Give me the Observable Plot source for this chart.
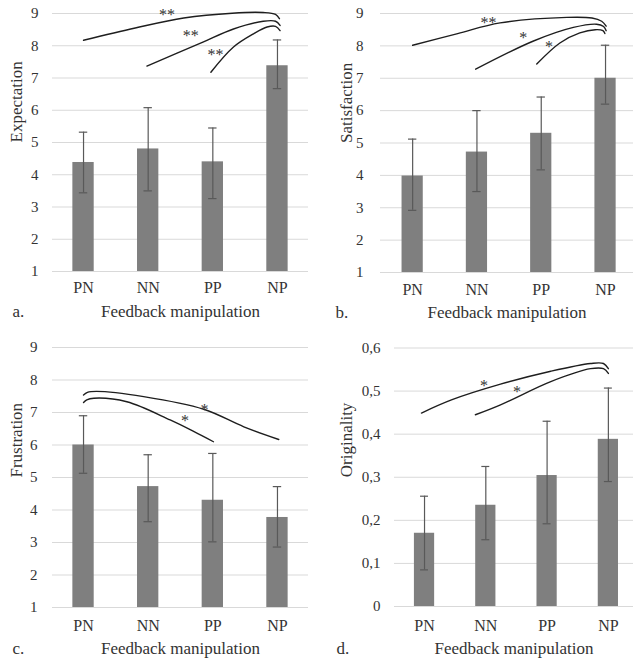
<!DOCTYPE html>
<html>
<head>
<meta charset="utf-8">
<script src="https://cdn.jsdelivr.net/npm/d3@7"></script>
<script src="https://cdn.jsdelivr.net/npm/@observablehq/plot@0.6"></script>
<style>
  html, body { margin: 0; padding: 0; background: #fff; }
  #wrap { position: relative; width: 636px; height: 662px; overflow: hidden; }
  .panel { position: absolute; width: 318px; height: 331px; }
  .panel svg, .panel svg text { font-family: "Liberation Serif", "Times New Roman", serif !important; }
</style>
</head>
<body>
<div id="wrap">
  <div class="panel" id="pa" style="left:0;top:0"></div>
  <div class="panel" id="pb" style="left:318px;top:0"></div>
  <div class="panel" id="pc" style="left:0;top:331px"></div>
  <div class="panel" id="pd" style="left:318px;top:331px"></div>
</div>
<script>
// ---- categories ----
const cats = ["PN", "NN", "PP", "NP"];

// ---- a. Expectation ----
const expectationMean = [4.38, 4.8, 4.4, 7.38];
const expectationLow  = [3.44, 3.5, 3.26, 6.67];
const expectationHigh = [5.32, 6.08, 5.45, 8.18];

// ---- b. Satisfaction ----
const satisfactionMean = [3.98, 4.72, 5.3, 7.0];
const satisfactionLow  = [2.92, 3.5, 4.17, 6.2];
const satisfactionHigh = [5.12, 6.0, 6.42, 8.02];

// ---- c. Frustration ----
const frustrationMean = [6.0, 4.72, 4.3, 3.77];
const frustrationLow  = [5.13, 3.64, 3.02, 2.86];
const frustrationHigh = [6.9, 5.7, 5.74, 4.72];

// ---- d. Originality ----
const originalityMean = [0.17, 0.235, 0.304, 0.388];
const originalityLow  = [0.085, 0.155, 0.192, 0.29];
const originalityHigh = [0.256, 0.325, 0.43, 0.507];

// ---- tick values ----
const ticks1to9 = [1, 2, 3, 4, 5, 6, 7, 8, 9];
const ticksOrig = [0, 0.1, 0.2, 0.3, 0.4, 0.5, 0.6];

// ---- significance brackets (category position, value) ----
const sigCurvesA = [
  [[0, 8.17], [0.8, 8.55], [1.55, 8.86], [2.3, 9.01], [2.78, 9.03], [2.97, 8.97], [3.03, 8.84]],
  [[0.98, 7.37], [1.81, 8.08], [2.32, 8.52], [2.78, 8.76], [2.97, 8.76], [3.04, 8.63]],
  [[1.97, 7.18], [2.32, 7.96], [2.63, 8.37], [2.84, 8.58], [2.97, 8.6], [3.04, 8.47]]
];
const sigCurvesB = [
  [[0, 8.02], [0.7, 8.38], [1.36, 8.71], [2.4, 8.88], [2.79, 8.86], [2.94, 8.76], [3.01, 8.61]],
  [[0.98, 7.28], [1.88, 8.15], [2.5, 8.57], [2.86, 8.67], [2.97, 8.6], [3.01, 8.47]],
  [[1.93, 7.44], [2.29, 8.09], [2.6, 8.4], [2.84, 8.5], [2.96, 8.47], [2.99, 8.38]]
];
const sigCurvesC = [
  [[0, 7.54], [0.06, 7.62], [0.2, 7.65], [0.93, 7.49], [1.86, 7.1], [2.48, 6.56], [3.02, 6.17]],
  [[0, 7.31], [0.05, 7.39], [0.16, 7.44], [0.67, 7.33], [1.34, 6.77], [1.71, 6.41], [2.01, 6.1]]
];
const sigCurvesD = [
  [[-0.05, 0.449], [0.45, 0.48], [1.24, 0.516], [2.06, 0.546], [2.71, 0.564], [2.92, 0.564], [3.0, 0.552]],
  [[0.83, 0.445], [1.24, 0.468], [2.06, 0.522], [2.71, 0.552], [2.92, 0.552], [3.0, 0.541]]
];
const starsA = [{x: 1.29, y: 9.04, t: "**"}, {x: 1.66, y: 8.4, t: "**"}, {x: 2.04, y: 7.82, t: "**"}];
const starsB = [{x: 1.18, y: 8.79, t: "**"}, {x: 1.72, y: 8.35, t: "*"}, {x: 2.12, y: 8.05, t: "*"}];
const starsC = [{x: 1.87, y: 7.18, t: "*"}, {x: 1.57, y: 6.82, t: "*"}];
const starsD = [{x: 0.97, y: 0.518, t: "*"}, {x: 1.51, y: 0.505, t: "*"}];

const FONT = "Liberation Serif, Times New Roman, serif";
const TEXT = "#333333";

function panel(o) {
  const data = cats.map((c, i) => ({i, c, v: o.mean[i], lo: o.low[i], hi: o.high[i]}));
  const curveData = o.curves.flatMap((pts, k) => pts.map(([x, y]) => ({k, x, y})));
  const hw = 0.165, cap = 0.065;
  return Plot.plot({
    width: 318, height: 331,
    marginLeft: o.mL, marginRight: o.mR, marginTop: o.mT, marginBottom: o.mB,
    x: {domain: o.xDomain},
    y: {domain: o.yDomain},
    style: {fontFamily: FONT, background: "#fff", color: TEXT, overflow: "visible"},
    marks: [
      Plot.ruleY(o.yTicks, {stroke: "#d9d9d9", strokeWidth: 1}),
      Plot.rectY(data, {x1: d => d.i - hw, x2: d => d.i + hw, y1: () => o.base, y2: "v", fill: "#7f7f7f"}),
      Plot.ruleX(data, {x: "i", y1: "lo", y2: "hi", stroke: "#595959", strokeWidth: 1.2}),
      Plot.ruleY(data, {y: "hi", x1: d => d.i - cap, x2: d => d.i + cap, stroke: "#595959", strokeWidth: 1.2}),
      Plot.ruleY(data, {y: "lo", x1: d => d.i - cap, x2: d => d.i + cap, stroke: "#595959", strokeWidth: 1.2}),
      Plot.line(curveData, {x: "x", y: "y", z: "k", curve: "catmull-rom", stroke: "#1e1e1e", strokeWidth: 1.4}),
      Plot.text(o.stars, {x: "x", y: "y", text: "t", fontSize: 16, dy: 3, fill: TEXT}),
      Plot.axisX({ticks: [0, 1, 2, 3], tickFormat: i => cats[i], tickSize: 0, tickPadding: o.xPad, fontSize: 16, label: null}),
      Plot.axisY({ticks: o.yTicks, tickFormat: o.fmt, tickSize: 0, tickPadding: o.yPad, fontSize: 15, label: null}),
      Plot.text([o.yLabel], {text: d => d, frameAnchor: "left", rotate: -90, dx: o.yLabelDx, fontSize: 17, fill: TEXT}),
      Plot.text(["Feedback manipulation"], {text: d => d, frameAnchor: "bottom", dy: o.xLabelDy, fontSize: 17, fill: TEXT}),
      Plot.text([o.letter], {text: d => d, frameAnchor: "bottom-left", textAnchor: "start", dx: o.letterDx, dy: o.xLabelDy, fontSize: 17, fill: TEXT})
    ]
  });
}

const intFmt = d => String(d);
const commaFmt = d => d === 0 ? "0" : d.toFixed(1).replace(".", ",");

document.getElementById("pa").append(panel({
  mean: expectationMean, low: expectationLow, high: expectationHigh,
  yLabel: "Expectation", letter: "a.", base: 1,
  yDomain: [1, 9], yTicks: ticks1to9, fmt: intFmt, xDomain: [-0.48, 3.48],
  mL: 52, mR: 10, mT: 13, mB: 60, xPad: 10.5, yPad: 14,
  yLabelDx: -36, xLabelDy: 45, letterDx: -40,
  curves: sigCurvesA, stars: starsA
}));
document.getElementById("pb").append(panel({
  mean: satisfactionMean, low: satisfactionLow, high: satisfactionHigh,
  yLabel: "Satisfaction", letter: "b.", base: 1,
  yDomain: [1, 9], yTicks: ticks1to9, fmt: intFmt, xDomain: [-0.5, 3.435],
  mL: 62, mR: 3, mT: 13, mB: 59, xPad: 11.5, yPad: 17,
  yLabelDx: -34, xLabelDy: 45, letterDx: -45,
  curves: sigCurvesB, stars: starsB
}));
document.getElementById("pc").append(panel({
  mean: frustrationMean, low: frustrationLow, high: frustrationHigh,
  yLabel: "Frustration", letter: "c.", base: 1,
  yDomain: [1, 9], yTicks: ticks1to9, fmt: intFmt, xDomain: [-0.48, 3.48],
  mL: 52, mR: 10, mT: 16, mB: 55, xPad: 12, yPad: 15,
  yLabelDx: -35.5, xLabelDy: 46, letterDx: -40,
  curves: sigCurvesC, stars: starsC
}));
document.getElementById("pd").append(panel({
  mean: originalityMean, low: originalityLow, high: originalityHigh,
  yLabel: "Originality", letter: "d.", base: 0,
  yDomain: [0, 0.6], yTicks: ticksOrig, fmt: commaFmt, xDomain: [-0.49, 3.41],
  mL: 76, mR: 3, mT: 16.5, mB: 56, xPad: 13, yPad: 14,
  yLabelDx: -47.5, xLabelDy: 47.5, letterDx: -58,
  curves: sigCurvesD, stars: starsD
}));
</script>
</body>
</html>
